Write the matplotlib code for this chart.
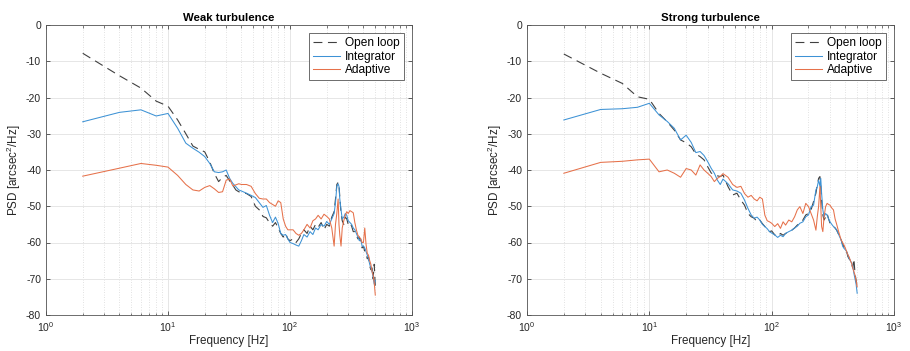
"""
PSD of tip/tilt residuals: open loop vs integrator vs adaptive controller,
for weak and strong turbulence.
"""

import matplotlib
matplotlib.use('Agg')
import matplotlib.pyplot as plt
from matplotlib.ticker import LogLocator, NullFormatter

plt.rcParams['font.family'] = ['Liberation Sans', 'DejaVu Sans']
plt.rcParams['axes.unicode_minus'] = False
plt.rcParams['mathtext.fontset'] = 'custom'
plt.rcParams['mathtext.rm'] = 'Liberation Sans'

# Frequency bins [Hz] shared by all curves
freq = [2, 4, 6, 8, 10, 12, 14, 16, 18, 20,
        22, 24, 26, 28, 30, 32, 34, 36, 38, 40,
        44, 48, 52, 56, 60, 64, 68, 72, 76, 80,
        84, 88, 92, 96, 100, 106, 112, 118, 124, 130,
        138, 146, 154, 162, 170, 180, 190, 200, 210, 220,
        230, 236, 242, 248, 252, 256, 262, 268, 276, 284,
        292, 300, 310, 320, 330, 340, 350, 360, 370, 380,
        390, 400, 410, 420, 430, 440, 450, 460, 470, 480,
        490, 500]

# Weak turbulence PSD [arcsec^2/Hz, dB]
weak_open = [-7.8, -14.0, -17.4, -21.0, -22.4, -26.2, -30.0, -33.4, -34.3, -35.0,
             -37.8, -41.0, -43.2, -42.0, -41.5, -43.0, -44.2, -45.5, -46.0, -46.2,
             -46.5, -47.3, -50.0, -51.0, -52.8, -53.2, -54.6, -55.5, -54.5, -56.0,
             -57.5, -58.5, -57.5, -59.0, -59.5, -59.0, -60.0, -59.0, -57.5, -56.5,
             -57.5, -55.5, -56.5, -55.0, -55.8, -54.5, -56.5, -55.0, -55.5, -53.0,
             -51.5, -48.0, -44.0, -43.4, -44.0, -47.5, -52.0, -54.0, -55.0, -53.0,
             -53.5, -55.0, -54.5, -55.5, -57.0, -57.0, -58.0, -59.0, -58.5, -60.0,
             -61.5, -61.0, -62.5, -63.0, -64.5, -64.0, -66.5, -67.5, -67.0, -70.0,
             -66.0, -72.0]
weak_int = [-26.7, -24.1, -23.4, -25.1, -24.4, -28.5, -32.6, -34.0, -35.1, -36.3,
            -38.2, -40.5, -40.7, -40.5, -40.0, -42.3, -43.7, -44.6, -45.5, -45.8,
            -46.4, -47.0, -47.6, -49.0, -50.3, -49.8, -52.5, -54.5, -53.0, -54.8,
            -57.5, -58.0, -57.8, -59.0, -60.0, -60.3, -60.7, -61.0, -59.5, -57.8,
            -58.5, -57.0, -57.8, -56.0, -56.5, -55.0, -55.5, -54.2, -55.0, -53.5,
            -52.0, -49.0, -44.5, -43.8, -44.5, -48.0, -51.0, -53.5, -53.0, -52.0,
            -52.5, -54.0, -54.5, -55.0, -56.0, -56.5, -57.5, -58.5, -59.5, -59.0,
            -61.0, -61.0, -61.5, -62.5, -63.5, -64.5, -66.0, -67.0, -68.0, -69.5,
            -71.5, -70.5]
weak_adp = [-41.7, -39.5, -38.2, -38.7, -39.2, -41.5, -44.0, -45.5, -45.8, -44.8,
            -44.3, -45.2, -46.2, -46.0, -42.8, -42.5, -44.4, -44.1, -43.8, -44.0,
            -44.0, -44.5, -46.5, -47.8, -48.0, -48.0, -49.0, -49.5, -50.0, -48.5,
            -49.0, -53.5, -55.5, -56.5, -56.5, -56.5, -57.5, -58.0, -57.5, -56.5,
            -55.0, -56.0, -54.0, -53.5, -52.5, -53.5, -52.2, -52.8, -53.5, -56.0,
            -61.0, -55.0, -52.0, -48.0, -55.0, -58.0, -61.0, -56.0, -54.0, -52.5,
            -51.5, -52.0, -51.2, -51.5, -51.8, -54.5, -56.5, -58.0, -58.5, -59.0,
            -60.0, -60.0, -56.0, -60.5, -63.0, -63.5, -65.0, -66.0, -68.0, -69.0,
            -71.0, -74.5]

# Strong turbulence PSD
strong_open = [-8.0, -13.3, -16.1, -19.8, -20.5, -24.4, -26.7, -29.0, -31.7, -32.5,
               -33.6, -35.6, -36.3, -37.2, -39.1, -40.8, -41.4, -41.6, -41.8, -41.4,
               -44.6, -46.9, -46.4, -48.3, -49.7, -52.0, -52.9, -53.3, -54.3, -53.8,
               -54.8, -55.6, -56.3, -57.0, -56.8, -57.9, -58.4, -57.5, -58.0, -57.5,
               -57.0, -56.6, -56.0, -55.2, -54.7, -53.8, -52.4, -52.0, -51.0, -48.7,
               -46.4, -44.1, -42.3, -41.8, -44.5, -48.3, -52.4, -53.8, -53.0, -52.0,
               -53.5, -54.7, -55.0, -55.6, -56.0, -56.6, -57.5, -58.5, -59.3, -60.5,
               -61.2, -61.2, -62.5, -63.9, -64.5, -65.0, -66.0, -67.0, -64.5, -68.5,
               -70.5, -72.2]
strong_int = [-26.2, -23.3, -23.1, -22.7, -21.6, -24.8, -26.6, -28.5, -31.7, -30.4,
              -32.4, -35.2, -34.9, -36.0, -37.7, -39.5, -40.9, -42.8, -44.0, -42.5,
              -43.8, -45.5, -45.8, -46.4, -48.3, -50.6, -52.4, -53.3, -53.0, -53.8,
              -55.0, -55.6, -56.2, -57.0, -57.4, -57.9, -58.6, -58.0, -58.4, -57.5,
              -57.0, -56.6, -56.0, -55.5, -54.7, -54.3, -52.9, -52.4, -50.1, -49.7,
              -45.5, -44.6, -42.8, -44.5, -42.3, -46.4, -51.0, -52.9, -52.0, -52.5,
              -53.5, -54.3, -55.0, -55.6, -56.0, -56.6, -57.5, -58.5, -59.3, -61.0,
              -61.6, -62.0, -62.5, -63.4, -64.5, -65.0, -65.7, -66.5, -68.5, -70.0,
              -71.5, -74.0]
strong_adp = [-40.9, -37.9, -37.6, -37.2, -37.0, -40.5, -40.0, -40.9, -42.0, -39.6,
              -40.0, -41.4, -38.6, -40.0, -40.9, -41.8, -43.2, -42.3, -41.8, -41.0,
              -42.0, -44.0, -44.8, -44.5, -46.5, -47.5, -47.0, -48.0, -48.5, -47.5,
              -48.0, -52.5, -54.0, -54.3, -54.7, -55.6, -54.8, -56.1, -54.3, -55.2,
              -53.8, -54.3, -52.9, -51.0, -50.1, -52.0, -49.2, -50.1, -52.0, -53.8,
              -56.6, -52.9, -50.0, -44.6, -50.0, -55.6, -57.0, -53.0, -50.1, -49.2,
              -49.5, -49.7, -50.5, -51.0, -53.5, -55.0, -56.6, -58.0, -59.3, -60.0,
              -60.7, -61.5, -62.5, -63.4, -64.0, -65.0, -65.7, -67.0, -68.0, -69.0,
              -70.5, -72.2]

labels = ['Open loop', 'Integrator', 'Adaptive']
titles = ['Weak turbulence', 'Strong turbulence']

# thin MATLAB lines come out lighter in the reference, so use lighter tones
c_open = '#404040'
c_int = '#3d92d5'
c_adp = '#e6714a'


def style_axes(ax, title):
    ax.set_xscale('log')
    ax.set_xlim(1, 1000)
    ax.set_ylim(-80, 0)
    ax.set_yticks(range(-80, 1, 10))
    ax.xaxis.set_minor_locator(LogLocator(base=10, subs=range(2, 10)))
    ax.xaxis.set_minor_formatter(NullFormatter())
    ax.grid(True, which='major', color='#e6e6e6', lw=0.7)
    ax.grid(True, which='minor', axis='x', color='#d8d8d8', lw=0.6, linestyle=(0, (1, 2)))
    ax.set_axisbelow(True)
    ax.tick_params(which='both', direction='in', top=True, right=True,
                   colors='#444444', labelcolor='#262626', labelsize=7.5)
    ax.tick_params(which='major', length=3, width=0.6)
    ax.tick_params(which='minor', length=1.8, width=0.5)
    for sp in ax.spines.values():
        sp.set_color('#555555')
        sp.set_linewidth(0.6)
    ax.set_title(title, fontsize=8.2, fontweight='bold', pad=3)
    ax.set_xlabel('Frequency [Hz]', fontsize=8.4, color='#262626', labelpad=1)
    ax.set_ylabel('PSD [arcsec$^2$/Hz]', fontsize=8.4, color='#262626', labelpad=2)


fig = plt.figure(figsize=(9.1, 3.51), dpi=100)
ax1 = fig.add_axes([46 / 910, 1 - 315 / 351, 366 / 910, 290 / 351])
ax2 = fig.add_axes([527 / 910, 1 - 315 / 351, 367 / 910, 290 / 351])

panels = [(ax1, weak_open, weak_int, weak_adp),
          (ax2, strong_open, strong_int, strong_adp)]

for (ax, ol, integ, adp), title in zip(panels, titles):
    ax.plot(freq, ol, color=c_open, lw=0.8, linestyle=(0, (8, 5)), label=labels[0])
    ax.plot(freq, integ, color=c_int, lw=0.75, label=labels[1])
    ax.plot(freq, adp, color=c_adp, lw=0.75, label=labels[2])
    style_axes(ax, title)
    leg = ax.legend(loc='upper right', bbox_to_anchor=(0.977, 0.972), borderaxespad=0,
                    fontsize=8.6, fancybox=False, framealpha=1, edgecolor='#555555',
                    handlelength=2.3, handletextpad=0.35, labelspacing=0.12,
                    borderpad=0.35)
    leg.get_frame().set_linewidth(0.6)

fig.savefig('out.png', dpi=100)
